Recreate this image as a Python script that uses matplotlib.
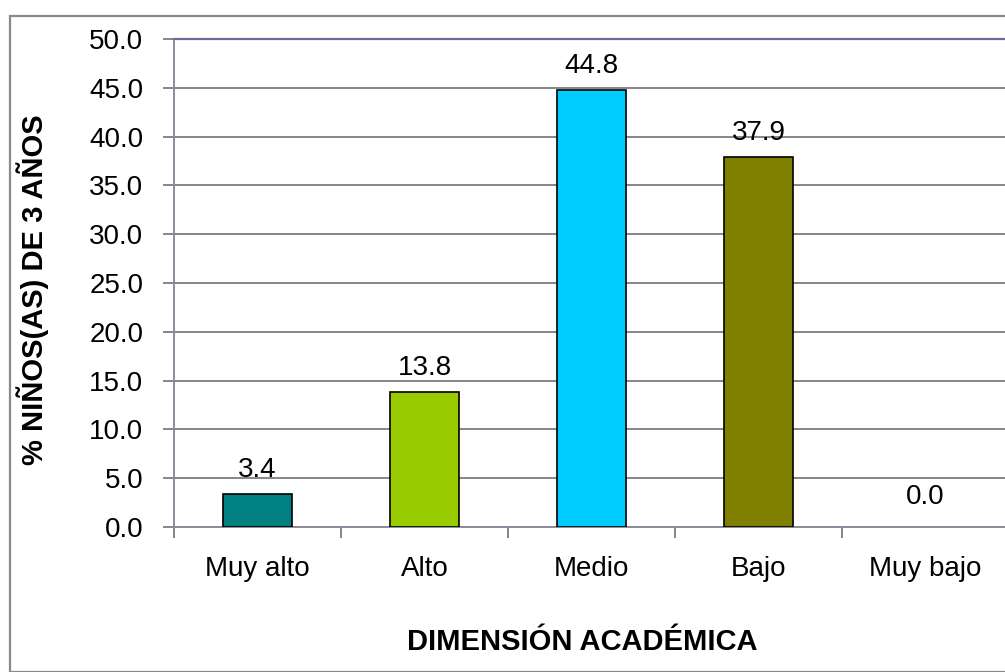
import matplotlib.pyplot as plt
from matplotlib.patches import Rectangle

plt.rcParams['font.family'] = ['Liberation Sans', 'DejaVu Sans']

# data
categories = ['Muy alto', 'Alto', 'Medio', 'Bajo', 'Muy bajo']
percentages = [3.4, 13.8, 44.8, 37.9, 0.0]
bar_colors = ['#008080', '#99CC00', '#00CCFF', '#808000', '#808080']
y_ticks = [0, 5, 10, 15, 20, 25, 30, 35, 40, 45, 50]

W, H = 1005, 672
fig = plt.figure(figsize=(W / 100, H / 100), dpi=100)

# outer chart border
fig.patches.append(Rectangle((10 / W, 0), 1.2, (H - 16) / H, transform=fig.transFigure,
                             fill=False, edgecolor='#8a8a8a', linewidth=1.6))

ax = fig.add_axes([174 / W, 145 / H, 835 / W, 488 / H])
x = list(range(len(categories)))
edge_widths = [1.2 if v > 0 else 0 for v in percentages]
bars = ax.bar(x, percentages, width=0.41, color=bar_colors, edgecolor='black',
              linewidth=edge_widths, zorder=3)

ax.set_xlim(-0.5, len(categories) - 0.5)
ax.set_ylim(0, 50)
ax.set_yticks(y_ticks)
ax.set_yticklabels([f'{v:.1f}' for v in y_ticks], fontsize=20)
ax.yaxis.grid(True, color='#868686', linewidth=1.4, zorder=0)

ax.set_xticks(x)
ax.set_xticklabels(categories, fontsize=20)
ax.tick_params(axis='x', which='major', length=0, pad=21)
ax.set_xticks([i + 0.5 for i in range(-1, len(categories))], minor=True)
ax.tick_params(axis='x', which='minor', length=8, width=1.4, color='#868686', direction='out')
ax.tick_params(axis='y', length=8, width=1.4, color='#868686', pad=14)

for side in ['left', 'bottom']:
    ax.spines[side].set_color('#8c8c9c')
    ax.spines[side].set_linewidth(1.4)
ax.spines['top'].set_color('#6b6b9b')
ax.spines['top'].set_linewidth(1.6)
ax.spines['right'].set_visible(False)

for xi, v in zip(x, percentages):
    ax.annotate(f'{v:.1f}', xy=(xi, v), xytext=(0, 8 if v > 0 else 12), textcoords='offset points',
                ha='center', va='bottom', fontsize=20)

fig.text(582 / W, 1 - 642 / H, 'DIMENSIÓN ACADÉMICA', ha='center', va='center',
         fontsize=21, fontweight='bold')
fig.text(33 / W, 1 - 290 / H, '% NIÑOS(AS) DE 3 AÑOS', ha='center', va='center',
         rotation=90, fontsize=21, fontweight='bold')

fig.savefig('out.png', dpi=100)
